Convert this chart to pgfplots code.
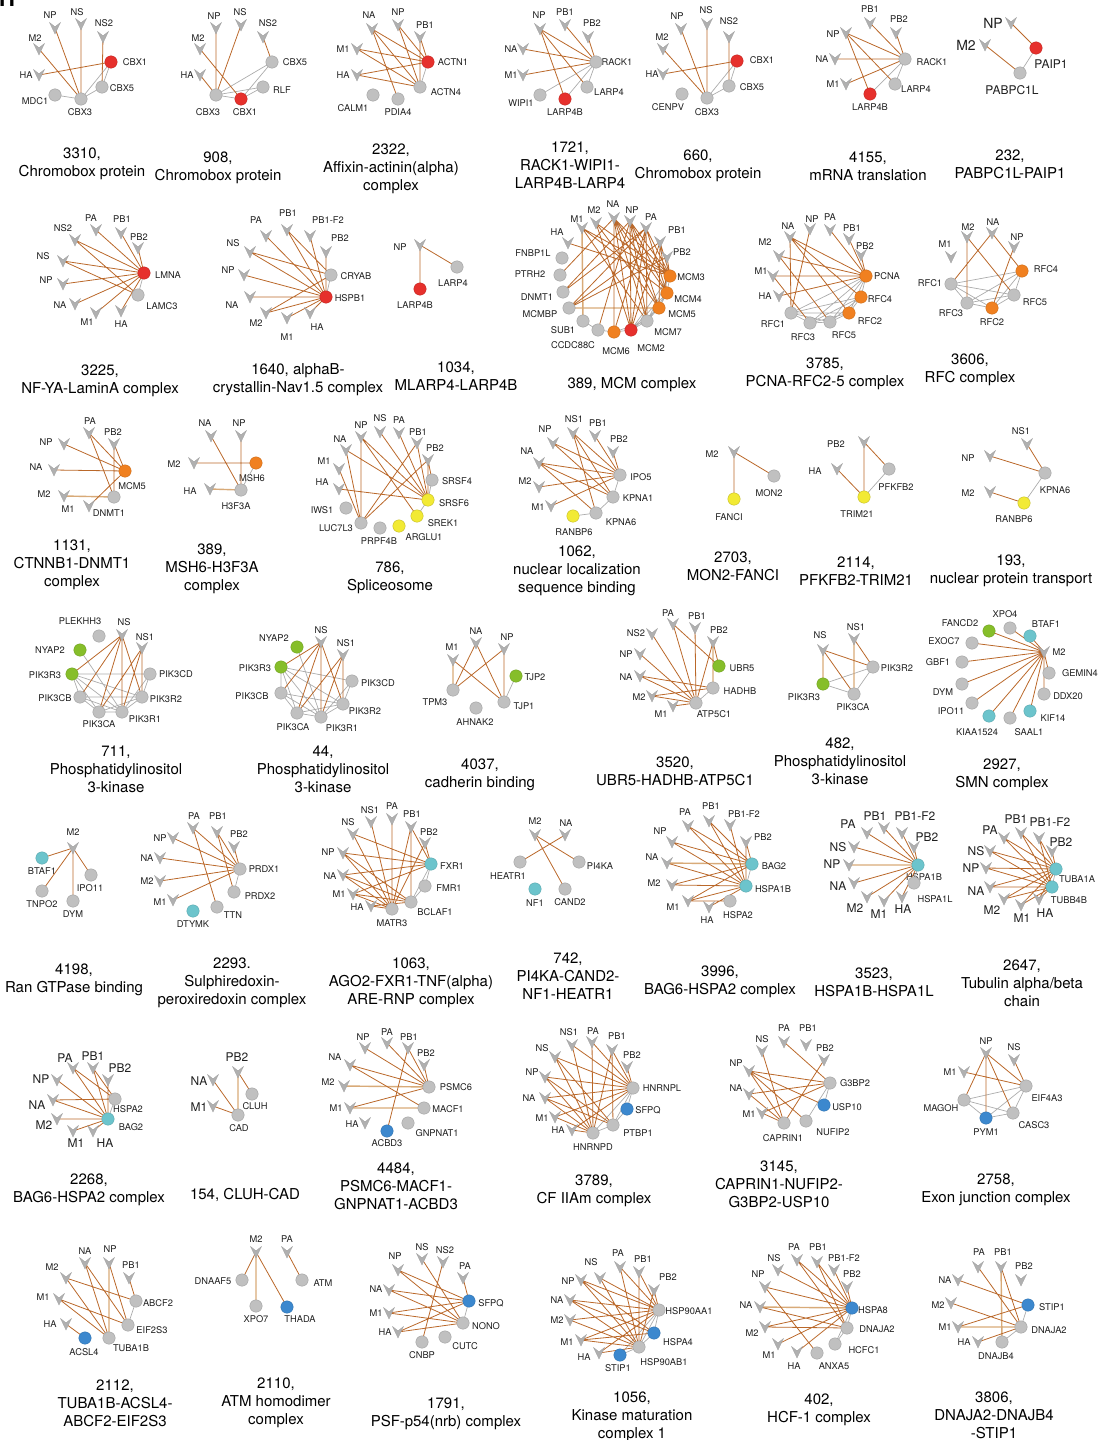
\documentclass[border=0pt]{standalone}
\usepackage{fontspec}
\setmainfont{TeX Gyre Heros}
\usepackage{pgfplots}
\pgfplotsset{compat=1.18}

\definecolor{eb}{RGB}{186,104,42}
\definecolor{eg}{RGB}{172,172,172}
\definecolor{et}{RGB}{216,170,120}
\definecolor{nfill}{RGB}{192,192,192}
\definecolor{nline}{RGB}{160,160,160}
\definecolor{vfill}{RGB}{176,176,176}
\definecolor{cr}{RGB}{230,48,44}
\definecolor{co}{RGB}{240,128,32}
\definecolor{cy}{RGB}{242,234,52}
\definecolor{cgr}{RGB}{134,190,42}
\definecolor{cc}{RGB}{108,196,204}
\definecolor{cb}{RGB}{60,136,206}

\pgfdeclareplotmark{vir}{%
  \pgfpathmoveto{\pgfqpoint{-5.5pt}{5.5pt}}%
  \pgfpathlineto{\pgfqpoint{0pt}{1.2pt}}%
  \pgfpathlineto{\pgfqpoint{5.5pt}{5.5pt}}%
  \pgfpathlineto{\pgfqpoint{0pt}{-6pt}}%
  \pgfpathclose
  \pgfusepathqfillstroke}

\pgfplotsset{
  ebl/.style={no marks, draw=eb, line width=0.8pt},
  egl/.style={no marks, draw=eg, line width=0.7pt},
  etl/.style={no marks, draw=et, line width=1.4pt},
  vv/.style={only marks, mark=vir, mark options={fill=vfill, draw=nline, line width=0.3pt}},
  hg/.style={only marks, mark=*, mark size=6.2pt, mark options={fill=nfill, draw=nline, line width=0.4pt}},
  hr/.style={only marks, mark=*, mark size=6.2pt, mark options={fill=cr, draw=cr!85!black, line width=0.4pt}},
  ho/.style={only marks, mark=*, mark size=6.2pt, mark options={fill=co, draw=co!85!black, line width=0.4pt}},
  hy/.style={only marks, mark=*, mark size=6.2pt, mark options={fill=cy, draw=cy!80!black, line width=0.4pt}},
  hgr/.style={only marks, mark=*, mark size=6.2pt, mark options={fill=cgr, draw=cgr!85!black, line width=0.4pt}},
  hc/.style={only marks, mark=*, mark size=6.2pt, mark options={fill=cc, draw=cc!85!black, line width=0.4pt}},
  hb/.style={only marks, mark=*, mark size=6.2pt, mark options={fill=cb, draw=cb!85!black, line width=0.4pt}},
}
\tikzset{
  nlab/.style={font=\fontsize{9.3}{10}\selectfont, inner sep=0pt, text=black!88},
  nlabL/.style={font=\fontsize{12}{13}\selectfont, inner sep=0pt, text=black!88},
  nlabXL/.style={font=\fontsize{14}{15}\selectfont, inner sep=0pt, text=black!88},
  capt/.style={font=\fontsize{15}{18}\selectfont, align=center, inner sep=0pt, text=black},
}

\newcommand\accinit[1]{\expandafter\gdef\csname acc@#1\endcsname{}}
\newcommand\accadd[2]{\expandafter\xdef\csname acc@#1\endcsname{\csname acc@#1\endcsname#2}}
\accinit{B}\accinit{G}\accinit{T}\accinit{V}
\accinit{g}\accinit{r}\accinit{o}\accinit{y}\accinit{gr}\accinit{c}\accinit{b}
\newcommand\lab[4]{\edef\tmp{\noexpand\node[#1] at (axis cs:#2,#3) {#4};}\tmp}
\def\vlab{nlab}\def\hlab{nlab}
\newcommand\Vn[6]{\expandafter\gdef\csname n@#1\endcsname{(#2,#3)}\accadd{V}{(#2,#3)}\lab{\vlab}{#4}{#5}{#6}}
\newcommand\Hn[7]{\expandafter\gdef\csname n@#1\endcsname{(#3,#4)}\accadd{#2}{(#3,#4)}\lab{\hlab}{#5}{#6}{#7}}
\newcommand\Eb[2]{\accadd{B}{\csname n@#1\endcsname\csname n@#2\endcsname(nan,nan)}}
\newcommand\Eg[2]{\accadd{G}{\csname n@#1\endcsname\csname n@#2\endcsname(nan,nan)}}
\newcommand\Et[2]{\accadd{T}{\csname n@#1\endcsname\csname n@#2\endcsname(nan,nan)}}
\newcommand\Ebs[2]{\foreach \qq in {#2}{\Eb{#1}{\qq}}}
\newcommand\Egs[2]{\foreach \qq in {#2}{\Eg{#1}{\qq}}}
\newcommand\drawacc[2]{\edef\tmp{\noexpand\addplot[#2] coordinates {\csname acc@#1\endcsname};}\tmp}
\newcommand\Cap[3]{\node[capt] at (axis cs:#1,#2) {#3};}

\begin{document}
\begin{tikzpicture}
\useasboundingbox (0,0) rectangle (1112pt,1440pt);
\begin{axis}[scale only axis, width=1112pt, height=1440pt,
  xmin=0, xmax=1112, ymin=0, ymax=1440, y dir=reverse,
  hide axis, clip=false, unbounded coords=jump]

\node[font=\fontsize{22}{22}\selectfont\bfseries, anchor=base west, inner sep=0pt] at (axis cs:-1,6) {H};

% ---------- Row 1 ----------
% 3310
\Vn{NP}{55}{28}{50}{15}{NP}\Vn{NS}{81}{24}{77}{12}{NS}\Vn{NS2}{103}{37}{104}{23}{NS2}
\Vn{M2}{39}{49}{35}{38}{M2}\Vn{HA}{39}{75}{26}{75}{HA}
\Hn{CBX1}{r}{111}{62}{135}{62}{CBX1}\Hn{CBX5}{g}{102}{87}{122}{88}{CBX5}
\Hn{CBX3}{g}{81}{99}{80}{112}{CBX3}\Hn{MDC1}{g}{55}{95}{35}{101}{MDC1}
\Ebs{CBX3}{NP,NS,M2}\Eb{NS2}{CBX5}\Eb{HA}{CBX1}\Egs{CBX3}{MDC1,CBX1,CBX5}\Eg{CBX5}{CBX1}
\Cap{82}{164}{3310,\\Chromobox protein}
% 908
\Vn{NP}{216}{28}{214}{16}{NP}\Vn{NS}{241}{25}{240}{12}{NS}\Vn{NS2}{263}{37}{268}{23}{NS2}
\Vn{M2}{200}{49}{198}{38}{M2}\Vn{HA}{200}{75}{187}{75}{HA}
\Hn{CBX5}{g}{272}{62}{295}{62}{CBX5}\Hn{RLF}{g}{263}{87}{282}{90}{RLF}
\Hn{CBX3}{g}{216}{95}{208}{112}{CBX3}\Hn{CBX1}{r}{241}{99}{245}{112}{CBX1}
\Ebs{CBX3}{NP,NS,HA}\Eb{NS2}{CBX5}\Eb{M2}{CBX1}\Egs{CBX3}{CBX5,RLF,CBX1}\Egs{CBX1}{CBX5,RLF}
\Cap{218}{168}{908,\\Chromobox protein}
% 2322
\Vn{NA}{372}{29}{369}{15}{NA}\Vn{NP}{398}{25}{398}{12}{NP}\Vn{PB1}{420}{37}{425}{25}{PB1}
\Vn{M1}{357}{49}{343}{49}{M1}\Vn{HA}{357}{75}{343}{75}{HA}
\Hn{ACTN1}{r}{428}{62}{453}{62}{ACTN1}\Hn{ACTN4}{g}{420}{87}{446}{92}{ACTN4}
\Hn{CALM1}{g}{373}{95}{353}{108}{CALM1}\Hn{PDIA4}{g}{398}{99}{398}{112}{PDIA4}
\Ebs{ACTN1}{NA,NP,PB1,M1,HA}\Ebs{ACTN4}{NA,NP,PB1,M1,HA}\Eb{NA}{PDIA4}\Eg{ACTN1}{ACTN4}
\Cap{391}{169}{2322,\\Affixin-actinin(alpha)\\complex}
% 1721
\Vn{NP}{540}{29}{539}{15}{NP}\Vn{PB1}{565}{25}{565}{12}{PB1}\Vn{PB2}{588}{37}{592}{23}{PB2}
\Vn{NA}{523}{49}{511}{49}{NA}\Vn{M1}{523}{75}{511}{75}{M1}
\Hn{RACK1}{g}{596}{62}{617}{62}{RACK1}\Hn{LARP4}{g}{587}{87}{609}{92}{LARP4}
\Hn{LARP4B}{r}{565}{99}{565}{112}{LARP4B}\Hn{WIPI1}{g}{540}{95}{521}{103}{WIPI1}
\Ebs{RACK1}{NP,PB1,PB2,NA,M1}\Ebs{NP}{LARP4,LARP4B}\Egs{RACK1}{LARP4,WIPI1,LARP4B}
\Cap{570}{165}{1721,\\RACK1-WIPI1-\\LARP4B-LARP4}
% 660
\Vn{NP}{681}{29}{677}{16}{NP}\Vn{NS}{707}{24}{706}{10}{NS}\Vn{NS2}{729}{37}{729}{21}{NS2}
\Vn{M2}{663}{49}{662}{37}{M2}\Vn{HA}{663}{74}{652}{74}{HA}
\Hn{CBX1}{r}{737}{61}{762}{60}{CBX1}\Hn{CBX5}{g}{729}{86}{752}{87}{CBX5}
\Hn{CBX3}{g}{707}{98}{707}{112}{CBX3}\Hn{CENPV}{g}{682}{94}{668}{107}{CENPV}
\Ebs{CBX3}{NP,NS,M2}\Eb{NS2}{CBX5}\Eb{HA}{CBX1}\Egs{CBX3}{CBX1,CBX5}\Eg{CBX5}{CBX1}
\Cap{698}{166}{660,\\Chromobox protein}
% 4155
\Vn{PB1}{870}{23}{870}{9}{PB1}\Vn{PB2}{896}{33}{899}{19}{PB2}\Vn{NP}{846}{33}{833}{34}{NP}
\Vn{NA}{835}{59}{822}{59}{NA}\Vn{M1}{846}{84}{833}{84}{M1}
\Hn{RACK1}{g}{905}{59}{932}{62}{RACK1}\Hn{LARP4}{g}{895}{84}{916}{89}{LARP4}
\Hn{LARP4B}{r}{870}{94}{870}{107}{LARP4B}
\Ebs{RACK1}{PB1,PB2,NP,NA,M1}\Ebs{NP}{LARP4,LARP4B}\Egs{RACK1}{LARP4,LARP4B}
\Cap{868}{166}{4155,\\mRNA translation}
% 232
\def\vlab{nlabXL}\def\hlab{nlabL}
\Vn{NP}{1011}{23}{993}{23}{NP}\Vn{M2}{985}{45}{966}{45}{M2}
\Hn{PAIP1}{r}{1036}{48}{1051}{64}{PAIP1}\Hn{PABPC1L}{g}{1020}{73}{1012}{90}{PABPC1L}
\Eb{NP}{PAIP1}\Eb{M2}{PABPC1L}\Eg{PAIP1}{PABPC1L}
\def\vlab{nlab}\def\hlab{nlab}
\Cap{1010}{164}{232,\\PABPC1L-PAIP1}

% ---------- Row 2 ----------
% 3225
\Vn{NS2}{75}{240}{63}{228}{NS2}\Vn{PA}{96}{230}{91}{218}{PA}\Vn{PB1}{121}{233}{122}{219}{PB1}
\Vn{PB2}{138}{248}{139}{237}{PB2}\Vn{NS}{63}{261}{43}{256}{NS}\Vn{NP}{63}{284}{46}{280}{NP}
\Vn{NA}{75}{304}{60}{305}{NA}\Vn{M1}{96}{313}{87}{322}{M1}\Vn{HA}{121}{311}{121}{324}{HA}
\Hn{LMNA}{r}{144}{273}{168}{275}{LMNA}\Hn{LAMC3}{g}{138}{295}{162}{306}{LAMC3}
\Ebs{LMNA}{NS2,PA,PB1,PB2,NS,NP,NA,M1,HA}\Ebs{LAMC3}{NS2,NS}\Eg{LMNA}{LAMC3}
\Cap{100}{381}{3225,\\NF-YA-LaminA complex}
% 1640
\Vn{PA}{266}{236}{256}{220}{PA}\Vn{PB1}{287}{230}{288}{213}{PB1}\Vn{PB1F2}{310}{236}{328}{220}{PB1-F2}
\Vn{PB2}{326}{252}{340}{238}{PB2}\Vn{NS}{250}{252}{233}{243}{NS}\Vn{NP}{244}{275}{228}{270}{NP}
\Vn{NA}{250}{297}{232}{305}{NA}\Vn{M2}{266}{313}{256}{323}{M2}\Vn{M1}{287}{318}{287}{337}{M1}
\Vn{HA}{310}{313}{317}{327}{HA}
\Hn{CRYAB}{g}{331}{275}{356}{276}{CRYAB}\Hn{HSPB1}{r}{326}{297}{350}{298}{HSPB1}
\Ebs{HSPB1}{PA,PB1,PB1F2,PB2,NS,NP,NA,M2,M1,HA}\Ebs{CRYAB}{NS,PB1,M2}\Eg{CRYAB}{HSPB1}
\Cap{298}{380}{1640, alphaB-\\crystallin-Nav1.5 complex}
% 1034
\Vn{NP}{420}{245}{400}{247}{NP}
\Hn{LARP4}{g}{457}{267}{453}{283}{LARP4}\Hn{LARP4B}{r}{420}{289}{415}{305}{LARP4B}
\Ebs{NP}{LARP4,LARP4B}
\Cap{456}{376}{1034,\\MLARP4-LARP4B}
% 389 MCM
\Vn{HA}{568}{243}{557}{232}{HA}\Vn{M1}{582}{228}{577}{219}{M1}\Vn{M2}{596}{223}{594}{210}{M2}
\Vn{NA}{614}{218}{613}{204}{NA}\Vn{NP}{630}{221}{632}{210}{NP}\Vn{PA}{646}{228}{651}{217}{PA}
\Vn{PB1}{660}{242}{677}{230}{PB1}\Vn{PB2}{667}{257}{682}{252}{PB2}
\Hn{MCM3}{o}{670}{276}{691}{277}{MCM3}\Hn{MCM4}{o}{667}{293}{688}{299}{MCM4}
\Hn{MCM5}{o}{659}{308}{682}{314}{MCM5}\Hn{MCM7}{g}{647}{321}{668}{332}{MCM7}
\Hn{MCM2}{r}{631}{330}{651}{348}{MCM2}\Hn{MCM6}{o}{614}{332}{616}{351}{MCM6}
\Hn{CCDC}{g}{598}{330}{573}{345}{CCDC88C}\Hn{SUB1}{g}{583}{321}{563}{330}{SUB1}
\Hn{MCMBP}{g}{569}{308}{540}{314}{MCMBP}\Hn{DNMT1}{g}{563}{292}{537}{297}{DNMT1}
\Hn{PTRH2}{g}{560}{275}{530}{274}{PTRH2}\Hn{FNBP1L}{g}{562}{258}{533}{253}{FNBP1L}
\Ebs{MCM3}{HA,M1,M2,NA,NP,PA,PB1,PB2}\Ebs{MCM4}{M1,NA,NP,PA,PB1}\Ebs{MCM5}{M2,NA,NP,PB1}
\Ebs{MCM7}{M1,NA,NP,PA}\Ebs{MCM2}{M2,NA,NP,PA,PB1}\Ebs{MCM6}{NA,PA}\Ebs{DNMT1}{NP,PA}
\Ebs{MCMBP}{PA,PB1,PB2}\Ebs{PTRH2}{NA}\Ebs{CCDC}{NP}\Et{M1}{SUB1}\Et{MCMBP}{MCM5}
\Egs{MCM2}{MCM3,MCM4,MCM5,MCM6,MCM7}\Egs{MCM7}{MCM3,MCM4,MCM5,MCM6}\Eg{MCM3}{MCM4}\Eg{MCM4}{MCM5}
\Eg{MCM6}{CCDC}\Eg{SUB1}{CCDC}
\Cap{632}{385}{389, MCM complex}
% 3785
\Vn{NA}{790}{237}{788}{226}{NA}\Vn{NP}{810}{229}{812}{219}{NP}\Vn{PA}{830}{230}{830}{217}{PA}
\Vn{PB1}{849}{239}{852}{228}{PB1}\Vn{PB2}{861}{255}{865}{246}{PB2}\Vn{M2}{779}{256}{765}{242}{M2}
\Vn{M1}{773}{276}{761}{271}{M1}\Vn{HA}{779}{296}{765}{296}{HA}
\Hn{PCNA}{o}{866}{276}{887}{276}{PCNA}\Hn{RFC4}{o}{861}{297}{880}{299}{RFC4}
\Hn{RFC2}{o}{849}{313}{870}{321}{RFC2}\Hn{RFC5}{g}{830}{322}{844}{335}{RFC5}
\Hn{RFC3}{g}{810}{323}{803}{337}{RFC3}\Hn{RFC1}{g}{791}{313}{773}{324}{RFC1}
\Ebs{PCNA}{NA,PA,PB1,PB2,M2,M1,HA}\Ebs{NA}{RFC4,RFC2,RFC1}\Eb{NP}{RFC1}\Eb{M2}{RFC5}\Eb{M1}{RFC3}
\Egs{RFC1}{RFC3,RFC5,RFC2,RFC4,PCNA}\Egs{RFC3}{RFC5,RFC2,RFC4,PCNA}\Egs{RFC5}{RFC2,RFC4,PCNA}
\Egs{RFC2}{RFC4,PCNA}\Eg{RFC4}{PCNA}
\Cap{825}{374}{3785,\\PCNA-RFC2-5 complex}
% 3606
\Vn{M1}{951}{257}{945}{244}{M1}\Vn{M2}{967}{237}{968}{227}{M2}\Vn{NA}{992}{233}{993}{222}{NA}
\Vn{NP}{1014}{247}{1017}{237}{NP}
\Hn{RFC4}{o}{1022}{271}{1046}{269}{RFC4}\Hn{RFC5}{g}{1014}{295}{1035}{302}{RFC5}
\Hn{RFC2}{o}{992}{308}{992}{322}{RFC2}\Hn{RFC3}{g}{967}{303}{951}{313}{RFC3}
\Hn{RFC1}{g}{951}{284}{930}{283}{RFC1}
\Ebs{M2}{RFC3,RFC5}\Ebs{NA}{RFC1,RFC4}\Eb{NP}{RFC2}
\Egs{RFC1}{RFC3,RFC5,RFC2,RFC4}\Egs{RFC3}{RFC5,RFC2,RFC4}\Egs{RFC5}{RFC2,RFC4}\Eg{RFC2}{RFC4}
\Cap{970}{370}{3606,\\RFC complex}

% ---------- Row 3 ----------
% 1131
\Vn{PA}{89}{433}{90}{421}{PA}\Vn{PB2}{114}{444}{113}{432}{PB2}\Vn{NP}{64}{444}{46}{442}{NP}
\Vn{NA}{54}{470}{36}{467}{NA}\Vn{M2}{64}{496}{44}{494}{M2}\Vn{M1}{89}{506}{68}{509}{M1}
\Hn{MCM5}{o}{125}{471}{132}{486}{MCM5}\Hn{DNMT1}{g}{114}{497}{109}{513}{DNMT1}
\Ebs{MCM5}{NP,PA,PB2,NA,M1}\Ebs{DNMT1}{PA,PB2}\Et{M2}{DNMT1}
\Cap{72}{565}{1131,\\CTNNB1-DNMT1\\complex}
% 389 MSH6
\Vn{NA}{211}{436}{205}{423}{NA}\Vn{NP}{241}{436}{239}{423}{NP}\Vn{M2}{194}{463}{174}{464}{M2}
\Vn{HA}{210}{489}{190}{491}{HA}
\Hn{MSH6}{o}{256}{463}{252}{478}{MSH6}\Hn{H3F3A}{g}{241}{490}{236}{506}{H3F3A}
\Ebs{H3F3A}{NA,NP}\Eb{M2}{MSH6}\Et{HA}{H3F3A}\Eg{MSH6}{H3F3A}
\Cap{212}{569}{389,\\MSH6-H3F3A\\complex}
% 786
\Vn{NP}{361}{437}{361}{425}{NP}\Vn{NS}{380}{432}{380}{418}{NS}\Vn{PA}{399}{433}{399}{420}{PA}
\Vn{PB1}{417}{443}{418}{432}{PB1}\Vn{PB2}{428}{460}{435}{448}{PB2}\Vn{NA}{346}{450}{340}{439}{NA}
\Vn{M1}{339}{469}{324}{461}{M1}\Vn{HA}{339}{489}{322}{482}{HA}
\Hn{SRSF4}{g}{432}{480}{457}{481}{SRSF4}\Hn{SRSF6}{y}{428}{500}{454}{503}{SRSF6}
\Hn{SREK1}{y}{417}{516}{443}{523}{SREK1}\Hn{ARGLU1}{y}{399}{526}{424}{537}{ARGLU1}
\Hn{PRPF4B}{g}{380}{528}{379}{541}{PRPF4B}\Hn{LUC7L3}{g}{361}{523}{336}{528}{LUC7L3}
\Hn{IWS1}{g}{346}{508}{322}{510}{IWS1}
\Ebs{SRSF6}{NP,NS,PA,PB1,PB2,NA,HA}\Ebs{LUC7L3}{NP,PB1,PB2,NA,M1}\Eb{NP}{SREK1}\Eb{PB2}{SRSF4}
\Egs{SRSF6}{SRSF4,SREK1}
\Cap{390}{578}{786,\\Spliceosome}
% 1062
\Vn{NP}{553}{443}{545}{429}{NP}\Vn{NA}{539}{463}{527}{451}{NA}\Vn{M2}{539}{487}{525}{481}{M2}
\Vn{M1}{551}{506}{538}{507}{M1}\Vn{NS1}{573}{433}{574}{419}{NS1}\Vn{PB1}{595}{436}{598}{423}{PB1}
\Vn{PB2}{613}{452}{619}{439}{PB2}
\Hn{IPO5}{g}{620}{475}{641}{477}{IPO5}\Hn{KPNA1}{g}{613}{497}{638}{498}{KPNA1}
\Hn{KPNA6}{g}{596}{513}{621}{522}{KPNA6}\Hn{RANBP6}{y}{573}{516}{574}{532}{RANBP6}
\Ebs{IPO5}{NP,NA,M2,M1,NS1,PB1,PB2}\Ebs{KPNA1}{NP,NA,NS1}\Ebs{KPNA6}{NS1,NA}
\Eg{IPO5}{KPNA1}\Eg{KPNA1}{KPNA6}\Eg{KPNA6}{RANBP6}
\Cap{577}{571}{1062,\\nuclear localization\\sequence binding}
% 2703
\Vn{M2}{734}{452}{712}{454}{M2}
\Hn{MON2}{g}{774}{476}{769}{493}{MON2}\Hn{FANCI}{y}{734}{499}{729}{517}{FANCI}
\Ebs{M2}{MON2,FANCI}
\Cap{733}{566}{2703,\\MON2-FANCI}
% 2114
\Vn{PB2}{864}{442}{836}{444}{PB2}\Vn{HA}{837}{469}{815}{471}{HA}
\Hn{PFKFB2}{g}{889}{469}{896}{487}{PFKFB2}\Hn{TRIM21}{y}{864}{497}{857}{514}{TRIM21}
\Ebs{TRIM21}{PB2,HA}\Eb{PB2}{PFKFB2}\Eg{PFKFB2}{TRIM21}
\Cap{856}{571}{2114,\\PFKFB2-TRIM21}
% 193
\Vn{NS1}{1027}{444}{1021}{431}{NS1}\Vn{NP}{990}{456}{968}{458}{NP}\Vn{M2}{990}{492}{968}{493}{M2}
\Hn{KPNA6}{g}{1045}{473}{1055}{490}{KPNA6}\Hn{RANBP6}{y}{1024}{503}{1014}{519}{RANBP6}
\Ebs{KPNA6}{NS1,NP}\Eb{M2}{RANBP6}\Eg{KPNA6}{RANBP6}
\Cap{1011}{571}{193,\\nuclear protein transport}

% ---------- Row 4 ----------
% 711
\Vn{NS}{122}{635}{124}{622}{NS}\Vn{NS1}{142}{648}{145}{637}{NS1}
\Hn{PLEKHH3}{g}{99}{636}{80}{621}{PLEKHH3}\Hn{NYAP2}{gr}{80}{650}{50}{650}{NYAP2}
\Hn{PIK3R3}{gr}{72}{674}{45}{675}{PIK3R3}\Hn{PIK3CD}{g}{150}{674}{176}{674}{PIK3CD}
\Hn{PIK3CB}{g}{80}{697}{55}{698}{PIK3CB}\Hn{PIK3R2}{g}{142}{697}{166}{699}{PIK3R2}
\Hn{PIK3CA}{g}{99}{712}{99}{724}{PIK3CA}\Hn{PIK3R1}{g}{122}{712}{145}{719}{PIK3R1}
\Ebs{NS}{PIK3R3,PIK3CB,PIK3CA,PIK3R1,PIK3R2}\Ebs{NS1}{PIK3CA,PIK3R1,PIK3R2}
\Egs{PIK3R3}{PIK3CD,PIK3CB,PIK3CA,PIK3R1,PIK3R2}\Egs{PIK3CB}{PIK3R2,PIK3R1,PIK3CA}
\Egs{PIK3CA}{PIK3R1,PIK3R2}\Egs{PIK3R1}{PIK3R2,PIK3CD}\Eg{NYAP2}{PIK3R1}\Eg{PIK3CD}{PIK3R2}
\Cap{116}{769}{711,\\Phosphatidylinositol\\3-kinase}
% 44
\Vn{NS}{321}{642}{321}{630}{NS}\Vn{NS1}{343}{655}{346}{643}{NS1}
\Hn{NYAP2}{gr}{297}{647}{274}{638}{NYAP2}\Hn{PIK3R3}{gr}{281}{667}{255}{668}{PIK3R3}
\Hn{PIK3CD}{g}{352}{681}{378}{683}{PIK3CD}\Hn{PIK3CB}{g}{281}{693}{252}{696}{PIK3CB}
\Hn{PIK3R2}{g}{343}{704}{365}{711}{PIK3R2}\Hn{PIK3CA}{g}{297}{713}{293}{727}{PIK3CA}
\Hn{PIK3R1}{g}{321}{717}{342}{728}{PIK3R1}
\Ebs{NS}{PIK3R3,PIK3CB,PIK3CA,PIK3R1,PIK3R2}\Ebs{NS1}{PIK3CA,PIK3R1,PIK3R2}
\Egs{PIK3R3}{PIK3CD,PIK3CB,PIK3CA,PIK3R1,PIK3R2}\Egs{PIK3CB}{PIK3R2,PIK3R1,PIK3CA}
\Egs{PIK3CA}{PIK3R1,PIK3R2}\Egs{PIK3R1}{PIK3R2,PIK3CD}\Eg{NYAP2}{PIK3R1}\Eg{PIK3CD}{PIK3R2}
\Cap{323}{769}{44,\\Phosphatidylinositol\\3-kinase}
% 4037
\Vn{M1}{453}{660}{452}{647}{M1}\Vn{NA}{476}{643}{476}{631}{NA}\Vn{NP}{504}{649}{507}{637}{NP}
\Hn{TJP2}{gr}{516}{676}{535}{677}{TJP2}\Hn{TPM3}{g}{453}{690}{435}{702}{TPM3}
\Hn{TJP1}{g}{504}{702}{524}{706}{TJP1}\Hn{AHNAK2}{g}{476}{708}{475}{722}{AHNAK2}
\Et{M1}{TPM3}\Eb{M1}{TJP1}\Ebs{NA}{TPM3,TJP1}\Ebs{NP}{TPM3,TJP1}\Eg{TJP2}{TJP1}
\Cap{480}{775}{4037,\\cadherin binding}
% 3520
\Vn{PA}{673}{624}{668}{613}{PA}\Vn{PB1}{695}{628}{697}{616}{PB1}\Vn{PB2}{713}{642}{719}{630}{PB2}
\Vn{NS2}{652}{634}{636}{633}{NS2}\Vn{NP}{640}{654}{626}{654}{NP}\Vn{NA}{640}{676}{626}{677}{NA}
\Vn{M2}{652}{696}{639}{697}{M2}\Vn{M1}{673}{706}{661}{714}{M1}
\Hn{UBR5}{gr}{719}{666}{742}{668}{UBR5}\Hn{HADHB}{g}{713}{688}{740}{691}{HADHB}
\Hn{ATP5C1}{g}{696}{703}{714}{714}{ATP5C1}
\Ebs{ATP5C1}{PA,PB1,PB2,NS2,NP,NA,M2,M1}\Ebs{UBR5}{PA,PB2}\Ebs{HADHB}{NA,M2}\Et{PB2}{HADHB}
\Eg{HADHB}{ATP5C1}
\Cap{675}{771}{3520,\\UBR5-HADHB-ATP5C1}
% 482
\Vn{NS}{823}{650}{820}{635}{NS}\Vn{NS1}{854}{639}{856}{627}{NS1}
\Hn{PIK3R2}{g}{873}{667}{897}{668}{PIK3R2}\Hn{PIK3R3}{gr}{823}{684}{804}{697}{PIK3R3}
\Hn{PIK3CA}{g}{854}{694}{853}{707}{PIK3CA}
\Et{NS}{PIK3R3}\Ebs{NS}{PIK3R2,PIK3CA}\Et{NS1}{PIK3CA}\Eb{NS1}{PIK3R2}
\Egs{PIK3R3}{PIK3R2,PIK3CA}\Eg{PIK3CA}{PIK3R2}
\Cap{840}{761}{482,\\Phosphatidylinositol\\3-kinase}
% 2927
\Vn{M2}{1044}{652}{1059}{652}{M2}
\Hn{FANCD2}{gr}{989}{631}{960}{623}{FANCD2}\Hn{XPO4}{g}{1010}{628}{1005}{614}{XPO4}
\Hn{BTAF1}{c}{1030}{636}{1046}{624}{BTAF1}\Hn{EXOC7}{g}{972}{643}{944}{641}{EXOC7}
\Hn{GBF1}{g}{962}{662}{938}{662}{GBF1}\Hn{GEMIN4}{g}{1049}{673}{1080}{673}{GEMIN4}
\Hn{DYM}{g}{962}{684}{943}{692}{DYM}\Hn{DDX20}{g}{1044}{694}{1068}{696}{DDX20}
\Hn{IPO11}{g}{972}{703}{951}{711}{IPO11}\Hn{KIF14}{c}{1030}{711}{1053}{718}{KIF14}
\Hn{KIAA}{c}{989}{716}{977}{732}{KIAA1524}\Hn{SAAL1}{g}{1010}{718}{1029}{732}{SAAL1}
\Ebs{M2}{FANCD2,XPO4,BTAF1,EXOC7,GBF1,GEMIN4,DYM,DDX20,IPO11,KIF14,KIAA,SAAL1}
\Cap{1002}{775}{2927,\\SMN complex}

% ---------- Row 5 ----------
% 4198
\Vn{M2}{73}{848}{73}{832}{M2}
\Hn{BTAF1}{c}{42}{858}{42}{871}{BTAF1}\Hn{IPO11}{g}{91}{875}{90}{888}{IPO11}
\Hn{TNPO2}{g}{42}{891}{42}{904}{TNPO2}\Hn{DYM}{g}{73}{901}{73}{914}{DYM}
\Ebs{M2}{BTAF1,IPO11,TNPO2,DYM}
\Cap{74}{980}{4198,\\Ran GTPase binding}
% 2293
\Vn{PA}{193}{828}{194}{816}{PA}\Vn{PB1}{217}{832}{218}{816}{PB1}\Vn{PB2}{234}{847}{239}{834}{PB2}
\Vn{NP}{173}{838}{160}{838}{NP}\Vn{NA}{160}{858}{147}{858}{NA}\Vn{M2}{160}{881}{147}{881}{M2}
\Vn{M1}{173}{900}{160}{902}{M1}
\Hn{PRDX1}{g}{240}{869}{264}{869}{PRDX1}\Hn{PRDX2}{g}{234}{892}{260}{896}{PRDX2}
\Hn{TTN}{g}{217}{907}{233}{915}{TTN}\Hn{DTYMK}{c}{193}{911}{193}{924}{DTYMK}
\Ebs{PRDX1}{PA,PB1,PB2,NP,NA,M2,M1}\Eb{PA}{TTN}\Eb{PB1}{PRDX2}\Eg{PRDX1}{PRDX2}
\Cap{232}{983}{2293.\\Sulphiredoxin-\\peroxiredoxin complex}
% 1063
\Vn{NS1}{371}{822}{370}{810}{NS1}\Vn{PA}{392}{819}{392}{806}{PA}\Vn{PB1}{411}{827}{412}{814}{PB1}
\Vn{PB2}{425}{843}{429}{832}{PB2}\Vn{NS}{353}{834}{348}{822}{NS}\Vn{NP}{343}{853}{328}{852}{NP}
\Vn{NA}{343}{875}{330}{876}{NA}\Vn{M1}{353}{894}{339}{894}{M1}\Vn{HA}{371}{906}{357}{907}{HA}
\Hn{FXR1}{c}{431}{864}{452}{866}{FXR1}\Hn{FMR1}{g}{425}{886}{449}{888}{FMR1}
\Hn{BCLAF1}{g}{411}{902}{435}{912}{BCLAF1}\Hn{MATR3}{g}{392}{909}{392}{923}{MATR3}
\Ebs{FXR1}{NP,NA,M1,PB1,PB2,NS}\Ebs{MATR3}{NS1,PA,PB1,NS,NP,NA,M1,HA,PB2}\Ebs{BCLAF1}{NP,NA,M1,HA,PB1}
\Egs{FXR1}{FMR1,BCLAF1}\Eg{FMR1}{BCLAF1}
\Cap{411}{983}{1063,\\AGO2-FXR1-TNF(alpha)\\ARE-RNP complex}
% 742
\Vn{M2}{535}{835}{535}{821}{M2}\Vn{NA}{565}{835}{566}{823}{NA}
\Hn{HEATR1}{g}{520}{862}{508}{876}{HEATR1}\Hn{NF1}{c}{535}{889}{535}{903}{NF1}
\Hn{PI4KA}{g}{579}{862}{600}{866}{PI4KA}\Hn{CAND2}{g}{565}{889}{570}{902}{CAND2}
\Ebs{M2}{PI4KA,CAND2}\Eb{NA}{HEATR1}
\Cap{568}{976}{742,\\PI4KA-CAND2-\\NF1-HEATR1}
% 3996
\Vn{PA}{688}{826}{685}{812}{PA}\Vn{PB1}{709}{821}{711}{806}{PB1}\Vn{PB1F2}{730}{825}{744}{814}{PB1-F2}
\Vn{PB2}{746}{842}{763}{837}{PB2}\Vn{NP}{672}{842}{660}{831}{NP}\Vn{NA}{667}{863}{652}{857}{NA}
\Vn{M2}{672}{885}{654}{883}{M2}\Vn{M1}{688}{901}{673}{907}{M1}\Vn{HA}{709}{907}{707}{920}{HA}
\Hn{BAG2}{c}{752}{864}{774}{866}{BAG2}\Hn{HSPA1B}{c}{746}{886}{773}{889}{HSPA1B}
\Hn{HSPA2}{g}{730}{901}{738}{915}{HSPA2}
\Ebs{BAG2}{PA,PB1,PB2,NP,M2,M1}\Et{NA}{BAG2}\Ebs{HSPA1B}{PA,PB1,PB1F2,PB2,NP,NA,M2,M1,HA}
\Eb{M1}{HSPA2}\Eg{BAG2}{HSPA1B}
\Cap{720}{982}{3996,\\BAG6-HSPA2 complex}
% 3523
\def\vlab{nlabL}
\Vn{PA}{867}{833}{848}{824}{PA}\Vn{PB1}{884}{828}{875}{816}{PB1}\Vn{PB1F2}{902}{833}{915}{816}{PB1-F2}
\Vn{PB2}{914}{847}{927}{837}{PB2}\Vn{NS}{854}{847}{838}{847}{NS}\Vn{NP}{849}{865}{832}{864}{NP}
\Vn{NA}{854}{883}{838}{886}{NA}\Vn{M2}{867}{897}{855}{908}{M2}\Vn{M1}{884}{901}{879}{914}{M1}
\Vn{HA}{902}{897}{903}{909}{HA}
\Hn{HSPA1B}{c}{918}{865}{924}{877}{HSPA1B}\Hn{HSPA1L}{g}{914}{883}{935}{899}{HSPA1L}
\Ebs{HSPA1B}{PA,PB1,PB1F2,PB2,NS,NA,M2,M1,HA}\Et{NP}{HSPA1B}\Eg{HSPA1B}{HSPA1L}
\Cap{874}{982}{3523,\\HSPA1B-HSPA1L}
% 2647
\Vn{PA}{1004}{838}{990}{830}{PA}\Vn{PB1}{1021}{833}{1016}{819}{PB1}\Vn{PB1F2}{1039}{838}{1050}{822}{PB1-F2}
\Vn{PB2}{1052}{851}{1061}{842}{PB2}\Vn{NS}{990}{851}{976}{851}{NS}\Vn{NP}{986}{868}{971}{868}{NP}
\Vn{NA}{990}{887}{976}{891}{NA}\Vn{M2}{1004}{899}{992}{910}{M2}\Vn{M1}{1021}{905}{1022}{918}{M1}
\Vn{HA}{1039}{899}{1045}{913}{HA}
\Hn{TUBA1A}{c}{1056}{869}{1077}{879}{TUBA1A}\Hn{TUBB4B}{c}{1052}{887}{1069}{900}{TUBB4B}
\Ebs{TUBA1A}{PA,PB1,PB1F2,PB2,NS,NP,NA,M2,M1,HA}\Ebs{TUBB4B}{PA,PB1,PB1F2,NS,NP,NA,M2,M1,HA}
\Eg{TUBA1A}{TUBB4B}
\Cap{1022}{983}{2647,\\Tubulin alpha/beta\\chain}

% ---------- Row 6 ----------
% 2268
\Vn{PA}{73}{1068}{65}{1058}{PA}\Vn{PB1}{93}{1068}{93}{1056}{PB1}\Vn{PB2}{108}{1080}{120}{1068}{PB2}
\Vn{NP}{57}{1080}{41}{1079}{NP}\Vn{NA}{53}{1100}{37}{1105}{NA}\Vn{M2}{57}{1119}{44}{1125}{M2}
\Vn{M1}{73}{1131}{76}{1143}{M1}\Vn{HA}{93}{1131}{105}{1143}{HA}
\Hn{HSPA2}{g}{115}{1099}{128}{1109}{HSPA2}\Hn{BAG2}{c}{108}{1119}{131}{1127}{BAG2}
\Ebs{BAG2}{PA,PB1,PB2,NP,NA,M2,M1,HA}\Ebs{HSPA2}{PA,PB1,NA}\Eg{HSPA2}{BAG2}
\Cap{89}{1190}{2268,\\BAG6-HSPA2 complex}
% 154
\Vn{PB2}{238}{1072}{237}{1057}{PB2}\Vn{NA}{213}{1080}{199}{1081}{NA}\Vn{M1}{213}{1106}{199}{1107}{M1}
\def\vlab{nlab}
\Hn{CLUH}{g}{252}{1094}{255}{1106}{CLUH}\Hn{CAD}{g}{238}{1115}{239}{1128}{CAD}
\Et{PB2}{CAD}\Eb{PB2}{CLUH}\Ebs{CAD}{NA,M1}
\Cap{245}{1195}{154, CLUH-CAD}
% 4484
\Vn{NP}{365}{1048}{363}{1037}{NP}\Vn{PA}{387}{1043}{387}{1032}{PA}\Vn{PB1}{408}{1048}{409}{1037}{PB1}
\Vn{PB2}{424}{1065}{426}{1053}{PB2}\Vn{NA}{350}{1065}{335}{1057}{NA}\Vn{M2}{344}{1086}{328}{1082}{M2}
\Vn{M1}{350}{1108}{336}{1108}{M1}\Vn{HA}{365}{1123}{352}{1124}{HA}
\Hn{PSMC6}{g}{429}{1087}{456}{1087}{PSMC6}\Hn{MACF1}{g}{424}{1108}{448}{1109}{MACF1}
\Hn{GNPNAT1}{g}{408}{1123}{437}{1133}{GNPNAT1}\Hn{ACBD3}{b}{387}{1131}{387}{1143}{ACBD3}
\Ebs{PSMC6}{NP,PA,PB1,PB2,NA,M1}\Et{M2}{PSMC6}\Et{M1}{MACF1}\Eb{NA}{MACF1}\Eb{PB1}{ACBD3}
\Cap{396}{1186}{4484,\\PSMC6-MACF1-\\GNPNAT1-ACBD3}
% 3789
\Vn{NS1}{572}{1045}{569}{1032}{NS1}\Vn{PA}{592}{1042}{593}{1031}{PA}\Vn{PB1}{612}{1050}{617}{1036}{PB1}
\Vn{PB2}{627}{1067}{632}{1055}{PB2}\Vn{NS}{555}{1057}{542}{1048}{NS}\Vn{NP}{545}{1077}{532}{1072}{NP}
\Vn{NA}{545}{1098}{529}{1098}{NA}\Vn{M1}{555}{1117}{542}{1118}{M1}\Vn{HA}{572}{1130}{558}{1130}{HA}
\Hn{HNRNPL}{g}{633}{1088}{662}{1088}{HNRNPL}\Hn{SFPQ}{b}{627}{1109}{648}{1110}{SFPQ}
\Hn{PTBP1}{g}{613}{1125}{638}{1133}{PTBP1}\Hn{HNRNPD}{g}{593}{1133}{593}{1147}{HNRNPD}
\Ebs{HNRNPL}{NS1,PA,PB1,PB2,NS,NP,NA,M1,HA}\Ebs{HNRNPD}{NS1,PA,PB1,NS,NP,NA,M1,HA}
\Ebs{PTBP1}{NS,NP,NA,PB1}\Egs{HNRNPL}{SFPQ,PTBP1,HNRNPD}\Eg{PTBP1}{HNRNPD}\Eg{SFPQ}{PTBP1}
\Cap{594}{1191}{3789,\\CF IIAm complex}
% 3145
\Vn{NS}{762}{1051}{762}{1039}{NS}\Vn{PA}{784}{1042}{784}{1028}{PA}\Vn{PB1}{806}{1045}{808}{1028}{PB1}
\Vn{PB2}{824}{1060}{825}{1048}{PB2}\Vn{NP}{749}{1071}{736}{1063}{NP}\Vn{NA}{749}{1094}{736}{1088}{NA}
\Vn{M1}{762}{1113}{749}{1114}{M1}
\Hn{G3BP2}{g}{830}{1083}{855}{1083}{G3BP2}\Hn{USP10}{b}{824}{1105}{847}{1107}{USP10}
\Hn{NUFIP2}{g}{806}{1121}{833}{1132}{NUFIP2}\Hn{CAPRIN1}{g}{784}{1123}{783}{1138}{CAPRIN1}
\Ebs{CAPRIN1}{NS,PB2,NP,NA,M1}\Ebs{G3BP2}{PA,NP,NA,M1}\Ebs{NP}{USP10,NUFIP2}
\Egs{G3BP2}{USP10,NUFIP2}
\Cap{779}{1184}{3145,\\CAPRIN1-NUFIP2-\\G3BP2-USP10}
% 2758
\Vn{NP}{986}{1053}{986}{1041}{NP}\Vn{NS}{1014}{1060}{1014}{1047}{NS}\Vn{M1}{964}{1072}{950}{1072}{M1}
\Hn{EIF4A3}{g}{1026}{1086}{1047}{1098}{EIF4A3}\Hn{MAGOH}{g}{964}{1100}{941}{1108}{MAGOH}
\Hn{CASC3}{g}{1013}{1113}{1034}{1125}{CASC3}\Hn{PYM1}{b}{986}{1118}{986}{1132}{PYM1}
\Ebs{NP}{MAGOH,PYM1,EIF4A3,CASC3}\Eb{NS}{EIF4A3}\Eb{M1}{EIF4A3}
\Egs{MAGOH}{PYM1,CASC3,EIF4A3}\Egs{PYM1}{EIF4A3,CASC3}\Eg{CASC3}{EIF4A3}
\Cap{996}{1190}{2758,\\Exon junction complex}

% ---------- Row 7 ----------
% 2112
\Vn{NA}{85}{1263}{85}{1251}{NA}\Vn{NP}{109}{1263}{110}{1249}{NP}\Vn{PB1}{129}{1278}{131}{1265}{PB1}
\Vn{M2}{66}{1278}{52}{1267}{M2}\Vn{M1}{59}{1299}{43}{1297}{M1}\Vn{HA}{66}{1324}{50}{1324}{HA}
\Hn{ABCF2}{g}{136}{1301}{158}{1303}{ABCF2}\Hn{EIF2S3}{g}{128}{1325}{152}{1330}{EIF2S3}
\Hn{TUBA1B}{g}{109}{1338}{131}{1348}{TUBA1B}\Hn{ACSL4}{b}{85}{1338}{84}{1352}{ACSL4}
\Ebs{TUBA1B}{NA,M2,M1}\Et{NP}{TUBA1B}\Ebs{EIF2S3}{NA,NP,M1}\Ebs{ABCF2}{PB1,M2}\Eb{HA}{ACSL4}
\Eg{ABCF2}{EIF2S3}
\Cap{115}{1403}{2112,\\TUBA1B-ACSL4-\\ABCF2-EIF2S3}
% 2110
\Vn{M2}{256}{1252}{256}{1239}{M2}\Vn{PA}{287}{1252}{287}{1239}{PA}
\Hn{DNAAF5}{g}{242}{1280}{213}{1281}{DNAAF5}\Hn{ATM}{g}{302}{1280}{323}{1283}{ATM}
\Hn{XPO7}{g}{256}{1306}{256}{1319}{XPO7}\Hn{THADA}{b}{287}{1307}{300}{1319}{THADA}
\Ebs{M2}{DNAAF5,THADA}\Et{M2}{XPO7}\Eb{PA}{ATM}
\Cap{276}{1403}{2110,\\ATM homodimer\\complex}
% 1791
\Vn{NP}{398}{1270}{395}{1256}{NP}\Vn{NS}{422}{1259}{422}{1247}{NS}\Vn{NS2}{443}{1262}{445}{1250}{NS2}
\Vn{PA}{463}{1278}{465}{1266}{PA}\Vn{NA}{389}{1290}{376}{1289}{NA}\Vn{M1}{389}{1313}{376}{1313}{M1}
\Vn{HA}{398}{1332}{385}{1332}{HA}
\Hn{SFPQ}{b}{469}{1301}{491}{1303}{SFPQ}\Hn{NONO}{g}{463}{1323}{486}{1326}{NONO}
\Hn{CUTC}{g}{445}{1337}{465}{1346}{CUTC}\Hn{CNBP}{g}{422}{1342}{422}{1355}{CNBP}
\Ebs{SFPQ}{NP,PA,NA,M1,HA}\Ebs{NONO}{NP,NS,NA,M1,HA}\Eb{NS2}{CNBP}\Eg{SFPQ}{NONO}
\Cap{446}{1414}{1791,\\PSF-p54(nrb) complex}
% 1056
\Vn{NS}{600}{1278}{591}{1262}{NS}\Vn{PA}{620}{1267}{618}{1253}{PA}\Vn{PB1}{639}{1272}{643}{1259}{PB1}
\Vn{PB2}{654}{1290}{668}{1277}{PB2}\Vn{NP}{581}{1280}{568}{1281}{NP}\Vn{NA}{570}{1300}{557}{1300}{NA}
\Vn{M2}{570}{1320}{557}{1320}{M2}\Vn{M1}{581}{1340}{567}{1342}{M1}\Vn{HA}{599}{1353}{584}{1357}{HA}
\Hn{HSP90AA1}{g}{659}{1310}{689}{1311}{HSP90AA1}\Hn{HSPA4}{b}{654}{1333}{678}{1342}{HSPA4}
\Hn{HSP90AB1}{g}{639}{1347}{664}{1362}{HSP90AB1}\Hn{STIP1}{b}{620}{1355}{618}{1368}{STIP1}
\Ebs{HSP90AA1}{NS,PA,PB1,PB2,NP,NA,M2,M1,HA}\Ebs{HSP90AB1}{NS,PA,PB1,PB2,NP,NA,M2,M1,HA}
\Ebs{HSPA4}{NA,M1,NP}\Egs{HSP90AA1}{HSPA4,HSP90AB1,STIP1}\Eg{HSP90AB1}{STIP1}\Eg{HSPA4}{HSP90AB1}
\Cap{632}{1417}{1056,\\Kinase maturation\\complex 1}
% 402
\Vn{NS}{778}{1270}{774}{1258}{NS}\Vn{PA}{797}{1260}{794}{1247}{PA}\Vn{PB1}{817}{1262}{818}{1247}{PB1}
\Vn{PB1F2}{834}{1270}{844}{1258}{PB1-F2}\Vn{PB2}{847}{1287}{852}{1274}{PB2}\Vn{NP}{765}{1287}{758}{1274}{NP}
\Vn{NA}{760}{1307}{746}{1305}{NA}\Vn{M2}{765}{1327}{752}{1333}{M2}\Vn{M1}{778}{1344}{769}{1355}{M1}
\Vn{HA}{797}{1352}{794}{1366}{HA}
\Hn{HSPA8}{b}{852}{1308}{873}{1310}{HSPA8}\Hn{DNAJA2}{g}{847}{1328}{877}{1329}{DNAJA2}
\Hn{HCFC1}{g}{835}{1344}{864}{1350}{HCFC1}\Hn{ANXA5}{g}{817}{1353}{834}{1366}{ANXA5}
\Ebs{HSPA8}{NS,PA,PB1,PB1F2,PB2,NP,M2,M1,HA}\Et{NA}{HSPA8}\Ebs{DNAJA2}{NA,M2,PA,PB1}\Eb{NP}{ANXA5}
\Egs{HSPA8}{DNAJA2,HCFC1}\Eg{DNAJA2}{HCFC1}
\Cap{819}{1410}{402,\\HCF-1 complex}
% 3806
\Vn{PA}{978}{1267}{979}{1252}{PA}\Vn{PB1}{1001}{1267}{1003}{1252}{PB1}\Vn{PB2}{1021}{1280}{1024}{1266}{PB2}
\Vn{NA}{958}{1280}{945}{1280}{NA}\Vn{M2}{951}{1303}{938}{1305}{M2}\Vn{M1}{958}{1327}{945}{1327}{M1}
\Vn{HA}{978}{1342}{964}{1342}{HA}
\Hn{STIP1}{b}{1028}{1305}{1052}{1307}{STIP1}\Hn{DNAJA2}{g}{1021}{1327}{1049}{1330}{DNAJA2}
\Hn{DNAJB4}{g}{1002}{1342}{996}{1356}{DNAJB4}
\Ebs{DNAJA2}{PA,PB1,M2,HA}\Et{M1}{DNAJA2}\Et{PB1}{DNAJB4}\Ebs{STIP1}{NA,M1}\Egs{DNAJA2}{STIP1,DNAJB4}
\Cap{994}{1415}{3806,\\DNAJA2-DNAJB4\\-STIP1}

% ---------- draw accumulated edges and nodes ----------
\drawacc{G}{egl}
\drawacc{T}{etl}
\drawacc{B}{ebl}
\drawacc{V}{vv}
\drawacc{g}{hg}
\drawacc{r}{hr}
\drawacc{o}{ho}
\drawacc{y}{hy}
\drawacc{gr}{hgr}
\drawacc{c}{hc}
\drawacc{b}{hb}
\end{axis}
\end{tikzpicture}
\end{document}
